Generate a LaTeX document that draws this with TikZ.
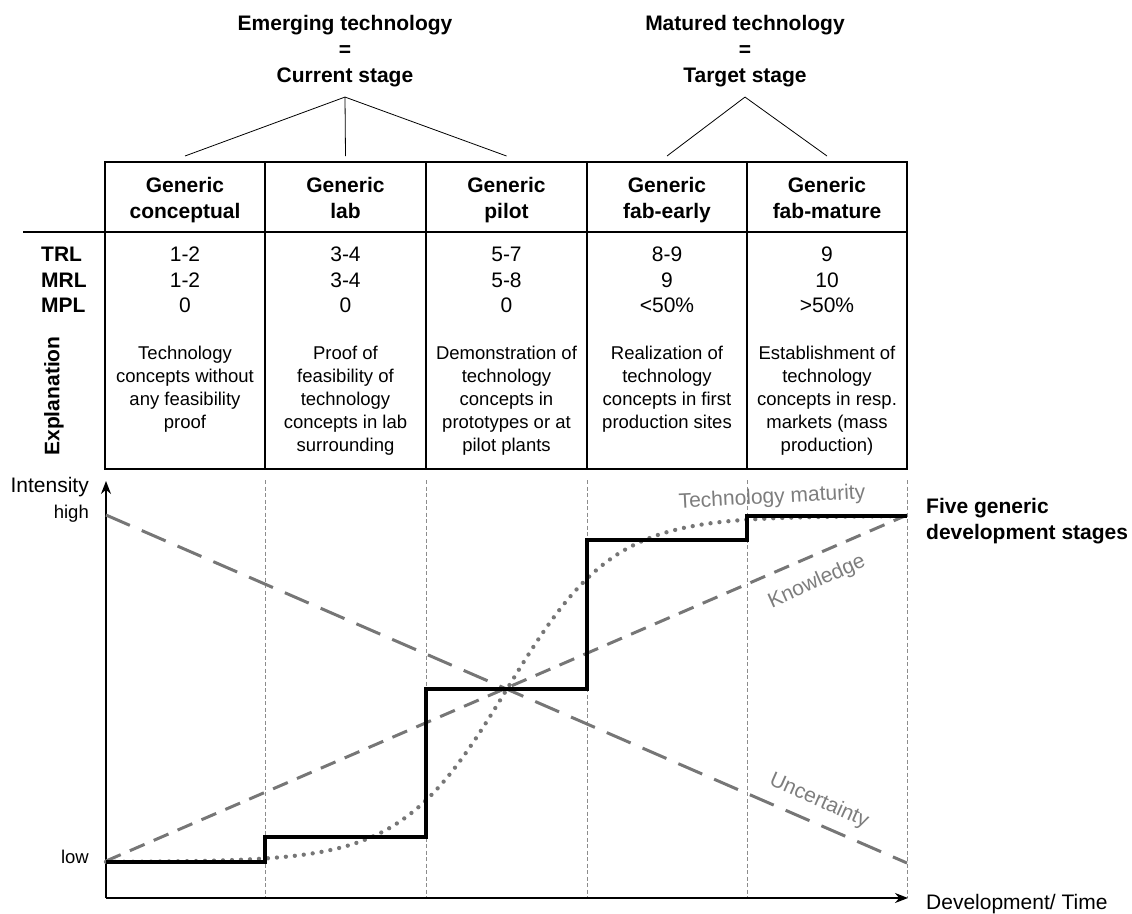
\documentclass[tikz,border=0pt]{standalone}
\usepackage{fontspec}
\setmainfont{Liberation Sans}
\usepackage{xcolor}
\usetikzlibrary{arrows.meta, positioning, calc}
\definecolor{curvegray}{RGB}{118,118,118}
\definecolor{labelgray}{RGB}{125,125,125}
\definecolor{gridgray}{RGB}{140,140,140}
\newcommand{\boldfont}{\fontsize{21}{26}\selectfont\bfseries}
\newcommand{\rowfont}{\fontsize{21}{25.5}\selectfont\bfseries}
\newcommand{\valfont}{\fontsize{21}{25.5}\selectfont}
\newcommand{\txtfont}{\fontsize{18.5}{23}\selectfont}
\newcommand{\axisfont}{\fontsize{21}{25}\selectfont}
\newcommand{\smallaxisfont}{\fontsize{18.5}{22}\selectfont}
\tikzstyle{stagetitle} = [align=center, font=\boldfont, inner sep=0pt, anchor=north]
\tikzstyle{head} = [align=center, font=\boldfont, inner sep=0pt, anchor=north]
\tikzstyle{valcell} = [align=center, font=\valfont, inner sep=0pt, anchor=north]
\tikzstyle{expl} = [align=center, font=\txtfont, inner sep=0pt, anchor=north]
\tikzstyle{tableline} = [line width=2.4pt]
\tikzstyle{branch} = [line width=0.8pt]
\tikzstyle{gridline} = [gridgray, line width=0.6pt, dash pattern=on 4pt off 2.5pt]
\tikzstyle{axisline} = [line width=1.5pt, -{Stealth[length=13pt, width=10pt]}]
\tikzstyle{stepline} = [line width=3.6pt, line join=miter]
\tikzstyle{uncert} = [curvegray, line width=3pt, dash pattern=on 26pt off 13pt]
\tikzstyle{know} = [curvegray, line width=3pt, dash pattern=on 16pt off 10pt]
\tikzstyle{mature} = [curvegray, line width=4.3pt, line cap=round, dash pattern=on 0pt off 9pt]
\tikzstyle{curvelabel} = [labelgray, font=\axisfont]

\begin{document}
\begin{tikzpicture}[x=1pt, y=-1pt]
\useasboundingbox (0,0) rectangle (1132,913);

% Stage titles
\node (emerging) [stagetitle] at (345,15) {Emerging technology\\=\\Current stage};
\node (matured) [stagetitle] at (745,15) {Matured technology\\=\\Target stage};

% Table frame
\draw [tableline] (105,162) rectangle (907,469);
\foreach \x in {265,426,587,747}
  \draw [tableline] (\x,162) -- (\x,469);
\draw [tableline] (23,232) -- (907,232);

% Header cells
\node (conceptual) [head] at (185,177) {Generic\\conceptual};
\node (lab) [head] at (345.5,177) {Generic\\lab};
\node (pilot) [head] at (506.5,177) {Generic\\pilot};
\node (fabearly) [head] at (667,177) {Generic\\fab-early};
\node (fabmature) [head] at (827,177) {Generic\\fab-mature};

% Row labels
\node (levels) [align=left, font=\rowfont, inner sep=0pt, anchor=north west] at (41,247) {TRL\\MRL\\MPL};
\node (explanation) [rotate=90, font=\boldfont, inner sep=0pt] at (54,396) {Explanation};

% Levels
\node (conceptualval) [valcell] at (185,247) {1-2\\1-2\\0};
\node (labval) [valcell] at (345.5,247) {3-4\\3-4\\0};
\node (pilotval) [valcell] at (506.5,247) {5-7\\5-8\\0};
\node (fabearlyval) [valcell] at (667,247) {8-9\\9\\<50\%};
\node (fabmatureval) [valcell] at (827,247) {9\\10\\>50\%};

% Explanations
\node (conceptualtxt) [expl] at (185,346) {Technology\\concepts without\\any feasibility\\proof};
\node (labtxt) [expl] at (345.5,346) {Proof of\\feasibility of\\technology\\concepts in lab\\surrounding};
\node (pilottxt) [expl] at (506.5,346) {Demonstration of\\technology\\concepts in\\prototypes or at\\pilot plants};
\node (fabearlytxt) [expl] at (667,346) {Realization of\\technology\\concepts in first\\production sites};
\node (fabmaturetxt) [expl] at (827,346) {Establishment of\\technology\\concepts in resp.\\markets (mass\\production)};

% Branches from titles
\coordinate (emergingtip) at ([yshift=-10pt]emerging.south);
\coordinate (maturedtip) at ([yshift=-10pt]matured.south);
\foreach \n in {conceptual,lab,pilot}
  \draw [branch] (emergingtip) -- ([yshift=21pt]\n.north);
\foreach \n in {fabearly,fabmature}
  \draw [branch] (maturedtip) -- ([yshift=21pt]\n.north);

% Axes
\coordinate (origin) at (106,898);
\coordinate (ytop) at (106,481);
\coordinate (xend) at (908,898);
\foreach \x in {265,426,587,747,907}
  \draw [gridline] (\x,480) -- (\x,898);
\draw [axisline] (origin) -- (ytop);
\draw [axisline] (origin) -- (xend);
\node (intensity) [anchor=east, font=\axisfont, inner sep=0pt] at (89,487) {Intensity};
\node (high) [anchor=east, font=\smallaxisfont, inner sep=0pt] at (89,514) {high};
\node (low) [anchor=east, font=\smallaxisfont, inner sep=0pt] at (89,857) {low};
\node (devtime) [anchor=west, font=\axisfont, inner sep=0pt] at (926,904) {Development/ Time};

% Curves
\draw [uncert] (106,515) -- (907,863);
\draw [know] (106,861) -- (907,515);
\draw [mature] plot[domain=106:907, samples=120] (\x, {862-346/(1+exp(-(\x-507)/53))});
\draw [stepline] (106,862) -- (265,862) -- (265,837) -- (426,837) -- (426,689) -- (587,689)
  -- (587,540) -- (747,540) -- (747,516) -- (907,516);

% Curve labels
\node (maturitylabel) [curvelabel, rotate=3] at (772,498) {Technology maturity};
\node (knowlabel) [curvelabel, rotate=24] at (817,582) {Knowledge};
\node (uncertlabel) [curvelabel, rotate=-24] at (819,801) {Uncertainty};
\node (stages) [anchor=west, align=left, font=\boldfont, inner sep=0pt] at (926,521) {Five generic\\development stages};

\end{tikzpicture}
\end{document}
